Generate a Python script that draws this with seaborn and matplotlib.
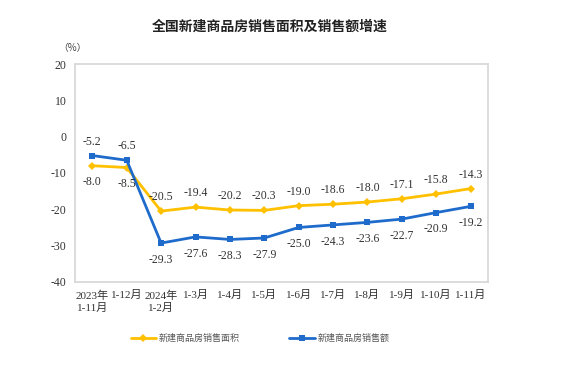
import numpy as np
import pandas as pd
import matplotlib
matplotlib.use("Agg")
import matplotlib.pyplot as plt
import seaborn as sns

# data
periods = ["2023年\n1-11月", "1-12月", "2024年\n1-2月", "1-3月", "1-4月", "1-5月",
           "1-6月", "1-7月", "1-8月", "1-9月", "1-10月", "1-11月"]
area_growth = [-8.0, -8.5, -20.5, -19.4, -20.2, -20.3, -19.0, -18.6, -18.0, -17.1, -15.8, -14.3]
sales_growth = [-5.2, -6.5, -29.3, -27.6, -28.3, -27.9, -25.0, -24.3, -23.6, -22.7, -20.9, -19.2]
area_name = "新建商品房销售面积"
sales_name = "新建商品房销售额"

sns.set_style("white")
plt.rcParams["font.family"] = ["Liberation Serif", "Noto Sans CJK SC"]
plt.rcParams["axes.unicode_minus"] = False

yellow = "#FFC000"
blue = "#1F6BCB"

df = pd.DataFrame({"period": periods, "area": area_growth, "sales": sales_growth})

fig = plt.figure(figsize=(5.78, 3.70), dpi=100)
ax = fig.add_axes([0.13, 0.238, 0.714, 0.589])

sns.lineplot(data=df, x="period", y="area", sort=False, ax=ax, color=yellow,
             marker="D", markersize=4, markeredgewidth=0, linewidth=2, label=area_name)
sns.lineplot(data=df, x="period", y="sales", sort=False, ax=ax, color=blue,
             marker="s", markersize=4.5, markeredgewidth=0, linewidth=2, label=sales_name)

# data labels
for i, v in enumerate(area_growth):
    dy = -12 if i < 2 else 10
    ax.annotate(f"{v:.1f}", (i, v), xytext=(0, dy), textcoords="offset points",
                ha="center", va="center", fontsize=8.5, color="#333333")
for i, v in enumerate(sales_growth):
    dy = 10 if i < 2 else -12
    ax.annotate(f"{v:.1f}", (i, v), xytext=(0, dy), textcoords="offset points",
                ha="center", va="center", fontsize=8.5, color="#333333")

ax.set_xlim(-0.5, len(periods) - 0.5)
ax.set_ylim(-40, 20)
ax.set_yticks(np.arange(-40, 21, 10))
ax.set_xticks(range(len(periods)))
ax.set_xticklabels(periods, fontsize=8, color="#333333", linespacing=1.3)
ax.set_xticks(np.arange(0.5, len(periods) - 0.5, 1), minor=True)
ax.tick_params(axis="x", which="major", length=0, pad=6)
ax.tick_params(axis="x", which="minor", direction="in", length=5, color="#d0d0d0")
ax.tick_params(axis="y", direction="in", length=3, color="#d0d0d0", labelsize=8.5,
               labelcolor="#333333", pad=6)
ax.set_xlabel("")
ax.set_ylabel("")
for s in ax.spines.values():
    s.set_color("#d6d6d6")
    s.set_linewidth(1.2)

ax.get_legend().remove()
handles, labels = ax.get_legend_handles_labels()
fig.legend(handles, labels, loc="center", bbox_to_anchor=(0.45, 0.086), ncol=2,
           frameon=False, fontsize=6.5, labelcolor="#555555", handlelength=2.8,
           columnspacing=5.5, handletextpad=0.3)

fig.text(0.467, 0.927, "全国新建商品房销售面积及销售额增速", ha="center", va="center",
         fontsize=10, family="Noto Sans CJK SC", color="#222222", weight="bold")
fig.text(0.125, 0.87, "（%）", ha="center", va="center", fontsize=7,
         family="Noto Sans CJK SC", color="#444444")

fig.savefig("out.png", dpi=100)
